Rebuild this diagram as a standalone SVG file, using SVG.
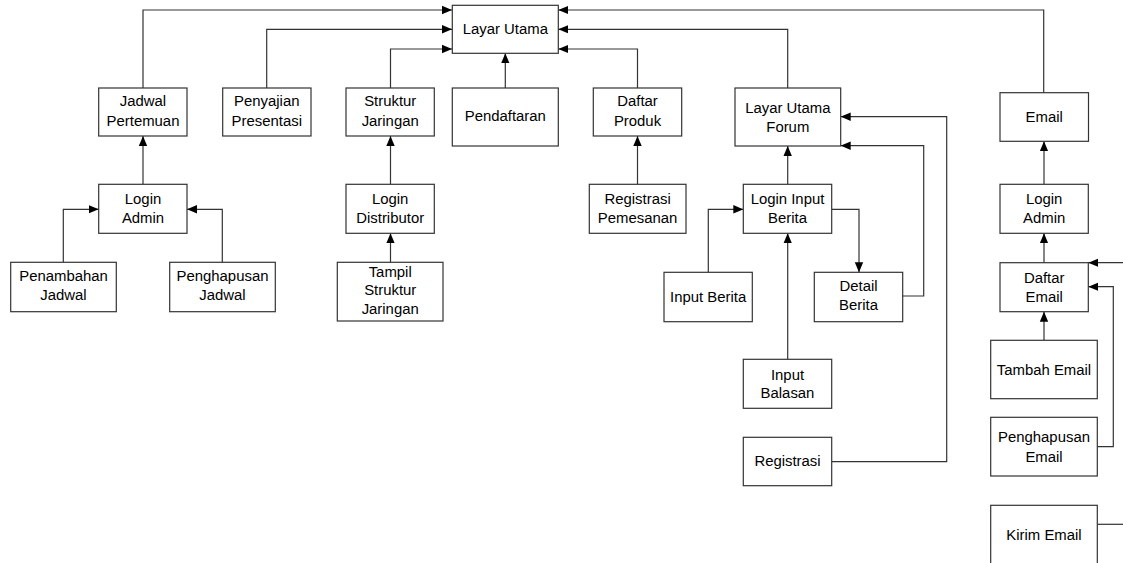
<svg xmlns="http://www.w3.org/2000/svg" width="1123" height="563" viewBox="0 0 1123 563">
<defs>
<marker id="ah" markerUnits="userSpaceOnUse" markerWidth="10" markerHeight="10" viewBox="0 0 10 10" refX="10" refY="5" orient="auto">
<path d="M0,0.8 L10,5 L0,9.2 Z" fill="#000"/>
</marker>
<style>
rect{fill:#fff;stroke:#333;stroke-width:1.2}
text{font-family:"Liberation Sans",Arial,sans-serif;font-size:14.9px;fill:#000;text-anchor:middle}
.c path{fill:none;stroke:#333;stroke-width:1.2}
.a{marker-end:url(#ah)}
</style>
</defs>
<rect x="0" y="0" width="1123" height="563" style="fill:#fff;stroke:none"/>
<g class="c" id="connectors">
<path class="a" d="M143,88 V10 H452"/>
<path class="a" d="M266.7,88 V29.3 H452"/>
<path class="a" d="M390.5,88 V49 H452"/>
<path class="a" d="M505.3,88 V53.3"/>
<path class="a" d="M637.5,88 V49 H558.3"/>
<path class="a" d="M787.7,88 V29.3 H558.3"/>
<path class="a" d="M1043.7,92.7 V10 H558.3"/>
<path class="a" d="M143,184.3 V136"/>
<path class="a" d="M63.3,262.3 V209.3 H98.7"/>
<path class="a" d="M222.3,262.3 V209.3 H187"/>
<path class="a" d="M390.5,184.3 V136"/>
<path class="a" d="M390.5,262.3 V233.3"/>
<path class="a" d="M637.5,184.3 V136"/>
<path class="a" d="M787.7,184.3 V146"/>
<path class="a" d="M708.3,272.3 V209.3 H743.3"/>
<path class="a" d="M831.7,209.3 H859 V272.3"/>
<path class="a" d="M902.7,296 H923.7 V145.7 H840.7"/>
<path class="a" d="M831.7,461.7 H946.7 V116.7 H840.7"/>
<path class="a" d="M787.7,359.3 V233.3"/>
<path class="a" d="M1044,184.3 V141.3"/>
<path class="a" d="M1044,262.7 V233.3"/>
<path class="a" d="M1044,340.3 V311.7"/>
<path class="a" d="M1097.3,446.7 H1113.3 V286.7 H1088.3"/>
<path class="a" d="M1125,262.7 H1088.3"/>
<path d="M1097.3,524.3 H1125"/>
</g>
<g id="layar-utama"><rect x="452.3" y="5.3" width="106" height="48"/><text x="505.3" y="34.3">Layar Utama</text></g>
<g id="jadwal-pertemuan"><rect x="98.7" y="88" width="88.3" height="48"/><text x="143" y="106">Jadwal</text><text x="143" y="126">Pertemuan</text></g>
<g id="penyajian-presentasi"><rect x="222.7" y="88" width="88.3" height="48"/><text x="266.8" y="106">Penyajian</text><text x="266.8" y="126">Presentasi</text></g>
<g id="struktur-jaringan"><rect x="346" y="88" width="88.3" height="48"/><text x="390.2" y="106">Struktur</text><text x="390.2" y="126">Jaringan</text></g>
<g id="pendaftaran"><rect x="452.3" y="88" width="106" height="58"/><text x="505.3" y="121">Pendaftaran</text></g>
<g id="daftar-produk"><rect x="593.3" y="88" width="88.4" height="48"/><text x="637.5" y="106">Daftar</text><text x="637.5" y="126">Produk</text></g>
<g id="layar-utama-forum"><rect x="735" y="88" width="105.7" height="58"/><text x="787.8" y="112.5">Layar Utama</text><text x="787.8" y="131.5">Forum</text></g>
<g id="email"><rect x="1000" y="92.7" width="88.5" height="48.6"/><text x="1044.2" y="122">Email</text></g>
<g id="login-admin"><rect x="98.7" y="184.3" width="88.3" height="49"/><text x="143" y="204.3">Login</text><text x="143" y="223.3">Admin</text></g>
<g id="login-distributor"><rect x="346" y="184.3" width="88.3" height="49"/><text x="390.2" y="204.3">Login</text><text x="390.2" y="223.3">Distributor</text></g>
<g id="registrasi-pemesanan"><rect x="589.3" y="184.3" width="96.7" height="49"/><text x="637.6" y="204.3">Registrasi</text><text x="637.6" y="223.3">Pemesanan</text></g>
<g id="login-input-berita"><rect x="743.3" y="184.3" width="88.4" height="49"/><text x="787.5" y="204.3">Login Input</text><text x="787.5" y="223.3">Berita</text></g>
<g id="login-admin-email"><rect x="1000" y="184.3" width="88.3" height="49"/><text x="1044.2" y="204.3">Login</text><text x="1044.2" y="223.3">Admin</text></g>
<g id="penambahan-jadwal"><rect x="10.7" y="262.3" width="105.6" height="49.4"/><text x="63.5" y="280.5">Penambahan</text><text x="63.5" y="300">Jadwal</text></g>
<g id="penghapusan-jadwal"><rect x="169.7" y="262.3" width="105.6" height="49.4"/><text x="222.5" y="280.5">Penghapusan</text><text x="222.5" y="300">Jadwal</text></g>
<g id="tampil-struktur-jaringan"><rect x="337.3" y="262.3" width="105.7" height="58.7"/><text x="390.2" y="276.5">Tampil</text><text x="390.2" y="295">Struktur</text><text x="390.2" y="313.5">Jaringan</text></g>
<g id="input-berita"><rect x="664" y="272.3" width="88.3" height="49.4"/><text x="708.2" y="301.5">Input Berita</text></g>
<g id="detail-berita"><rect x="814.3" y="272.3" width="88.4" height="49.4"/><text x="858.5" y="291">Detail</text><text x="858.5" y="310">Berita</text></g>
<g id="input-balasan"><rect x="743.3" y="359.3" width="88.4" height="49"/><text x="787.5" y="380">Input</text><text x="787.5" y="398">Balasan</text></g>
<g id="registrasi"><rect x="743.3" y="437.3" width="88.4" height="48.4"/><text x="787.5" y="465.5">Registrasi</text></g>
<g id="daftar-email"><rect x="1000" y="262.7" width="88.3" height="49"/><text x="1044.2" y="282.5">Daftar</text><text x="1044.2" y="301.5">Email</text></g>
<g id="tambah-email"><rect x="990.7" y="340.3" width="106.6" height="58.4"/><text x="1044" y="374.5">Tambah Email</text></g>
<g id="penghapusan-email"><rect x="990.7" y="417.3" width="106.6" height="58.7"/><text x="1044" y="442">Penghapusan</text><text x="1044" y="462">Email</text></g>
<g id="kirim-email"><rect x="990.7" y="505.3" width="106.6" height="80"/><text x="1044" y="540">Kirim Email</text></g>
</svg>
